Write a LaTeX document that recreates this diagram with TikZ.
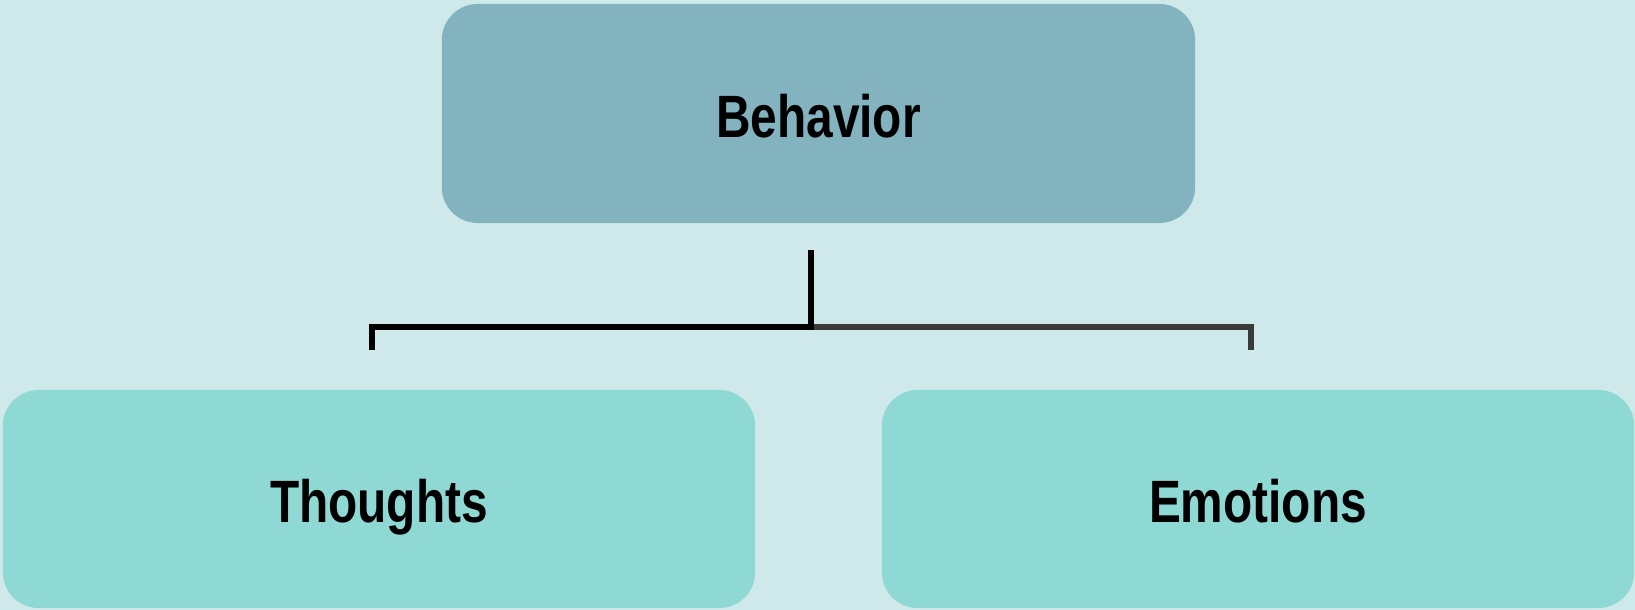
\documentclass[tikz,border=0pt]{standalone}
\usepackage{fontspec}
\newfontfamily\cond[FakeStretch=0.8]{Liberation Sans}
\definecolor{bgc}{HTML}{CFE9EA}
\definecolor{topc}{HTML}{83B3BF}
\definecolor{botc}{HTML}{8FD9D5}
\definecolor{grayline}{HTML}{3A3A3A}
\tikzset{
  box/.style={rounded corners=0.36cm, inner sep=0pt, text height=15.8pt, text depth=2.2pt,
    font=\cond\bfseries\fontsize{17}{20}\selectfont, text=black},
  link/.style={line width=1.7pt, line join=miter}
}
\begin{document}
\begin{tikzpicture}[x=0.01cm,y=-0.01cm]
\fill[bgc] (0,0) rectangle (1635,610);
\useasboundingbox (0,0) rectangle (1635,610);
\node[box, fill=topc, minimum width=7.53cm, minimum height=2.19cm] (top) at (818.5,113.5) {Behavior};
\node[box, fill=botc, minimum width=7.52cm, minimum height=2.18cm] (thoughts) at (379,499) {Thoughts};
\node[box, fill=botc, minimum width=7.52cm, minimum height=2.18cm] (emotions) at (1258,499) {Emotions};
\coordinate (stem) at (811,250);
\coordinate (junc) at (811,327);
\coordinate (lt) at (372,350);
\coordinate (rt) at (1251,350);
\draw[link, grayline] (junc) -| (rt);
\draw[link, black] (stem) -- (junc) -| (lt);
\end{tikzpicture}
\end{document}
